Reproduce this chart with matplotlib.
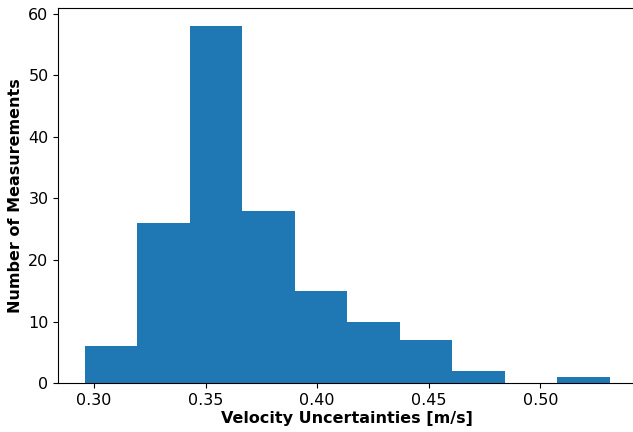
import numpy as np
import matplotlib
matplotlib.use("Agg")
import matplotlib.pyplot as plt

# Histogram of velocity uncertainties: counts per bin
bin_low = 0.2958
bin_high = 0.5312
counts = [6, 26, 58, 28, 15, 10, 7, 2, 0, 1]
x_ticks = [0.30, 0.35, 0.40, 0.45, 0.50]
y_ticks = [0, 10, 20, 30, 40, 50, 60]

edges = np.linspace(bin_low, bin_high, len(counts) + 1)

fig = plt.figure(figsize=(6.33, 4.32), dpi=100)
ax = fig.add_axes([58.3 / 633, 48.7 / 432, (636.3 - 58.3) / 633, (383.3 - 8.0) / 432])

ax.hist(edges[:-1], bins=edges, weights=counts, color="#1f77b4")

ax.set_xticks(x_ticks)
ax.set_xticklabels([f"{t:.2f}" for t in x_ticks])
ax.set_yticks(y_ticks)
ax.tick_params(labelsize=11.5)
ax.spines["right"].set_visible(False)

ax.set_xlabel("Velocity Uncertainties [m/s]", fontsize=11.5, fontweight="bold",
              labelpad=2.5)
ax.set_ylabel("Number of Measurements", fontsize=11.5, fontweight="bold")
ax.yaxis.set_label_coords((23.0 - 58.3) / 578.0, 0.5)

fig.savefig("out.png", dpi=100)
